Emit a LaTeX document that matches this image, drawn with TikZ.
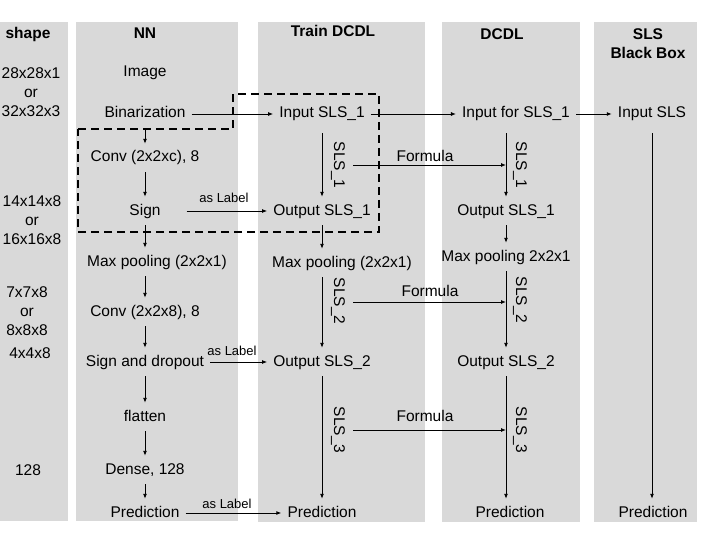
\documentclass[tikz,border=0pt]{standalone}
\usepackage{fontspec}
\setmainfont{Liberation Sans}
\usetikzlibrary{arrows.meta,calc}
\definecolor{colgray}{RGB}{217,217,217}
\begin{document}
\begin{tikzpicture}[x=1pt,y=-1pt,
  lbl/.style={inner xsep=6pt, inner ysep=7pt, text height=11pt, text depth=3pt, font=\fontsize{15.5}{19}\selectfont},
  hdr/.style={font=\fontsize{15.5}{19}\selectfont\bfseries, align=center, inner sep=0pt},
  shp/.style={font=\fontsize{15.5}{19}\selectfont, align=center, inner sep=0pt},
  arr/.style={-{Latex[length=5pt,width=4pt]}, line width=0.9pt},
  smalllbl/.style={font=\fontsize{13}{15}\selectfont, inner sep=0pt},
  formlbl/.style={font=\fontsize{15.5}{19}\selectfont, inner sep=0pt},
  rotlbl/.style={rotate=-90, font=\fontsize{15.5}{19}\selectfont, inner sep=0pt},
  colbox/.style={fill=colgray, draw=none},
  dashbox/.style={draw, line width=1.8pt, dash pattern=on 8pt off 5pt}]
\useasboundingbox (0,0) rectangle (720,540);
% columns
\fill[colbox] (0,22) rectangle (68,521);
\fill[colbox] (76,22) rectangle (238,521);
\fill[colbox] (258,22) rectangle (425,522);
\fill[colbox] (442,22) rectangle (580,522);
\fill[colbox] (594,22) rectangle (697,522);
% headers
\node[hdr] (hshape) at (28,34) {shape};
\node[hdr] (hnn) at (145,33) {NN};
\node[hdr] (htrain) at (333,31) {Train DCDL};
\node[hdr] (hdcdl) at (502,34) {DCDL};
\node[hdr] (hsls) at (648,43.5) {SLS\\Black Box};
% shapes
\node[shp] (s1) at (31,92) {28x28x1\\or\\32x32x3};
\node[shp] (s2) at (32,220) {14x14x8\\or\\16x16x8};
\node[shp] (s3) at (27,311) {7x7x8\\or\\8x8x8};
\node[shp] (s4) at (30,353) {4x4x8};
\node[shp] (s5) at (28,470) {128};
% NN column
\node[lbl] (image) at (145,73) {Image};
\node[lbl] (bin) at (145,114) {Binarization};
\node[lbl] (conv1) at (145,158) {Conv (2x2xc), 8};
\node[lbl] (sign) at (145,211) {Sign};
\node[lbl] (max1) at (157,262) {Max pooling (2x2x1)};
\node[lbl] (conv2) at (145,312) {Conv (2x2x8), 8};
\node[lbl] (signd) at (145,362) {Sign and dropout};
\node[lbl] (flat) at (145,417) {flatten};
\node[lbl] (dense) at (145,470) {Dense, 128};
\node[lbl] (pred) at (145,513) {Prediction};
% Train DCDL column
\node[lbl] (in1) at (322,114) {Input SLS\_1};
\node[lbl] (out1) at (322,211) {Output SLS\_1};
\node[lbl] (maxT) at (342,263) {Max pooling (2x2x1)};
\node[lbl] (out2) at (322,362) {Output SLS\_2};
\node[lbl] (predT) at (322,513) {Prediction};
% DCDL column
\node[lbl] (inD) at (516,114) {Input for SLS\_1};
\node[lbl] (outD1) at (506,211) {Output SLS\_1};
\node[lbl] (maxD) at (506,257) {Max pooling 2x2x1};
\node[lbl] (outD2) at (506,362) {Output SLS\_2};
\node[lbl] (predD) at (510,513) {Prediction};
% SLS black box column
\node[lbl] (inB) at (652,114) {Input SLS};
\node[lbl] (predB) at (653,513) {Prediction};
% dashed region
\draw[dashbox] (78,129) -- (233,129) -- (233,94) -- (379,94) -- (379,232) -- (78,232) -- cycle;
% NN arrows
\draw[arr] (bin) -- (conv1);
\draw[arr] (conv1) -- (sign);
\draw[arr] (sign.south) -- (sign.south |- max1.north);
\draw[arr] (max1.south -| conv2.north) -- (conv2.north);
\draw[arr] (conv2) -- (signd);
\draw[arr] (signd) -- (flat);
\draw[arr] (flat) -- (dense);
\draw[arr] (dense) -- (pred);
% horizontal top
\draw[arr] (bin) -- (in1);
\draw[arr] (in1) -- (inD);
\draw[arr] (inD) -- (inB);
% as Label
\draw[arr, shorten <=20pt] (sign) -- (out1);
\node[smalllbl] (al1) at (224,198) {as Label};
\draw[arr] (signd) -- (out2);
\node[smalllbl] (al2) at (232,351) {as Label};
\draw[arr] (pred) -- (predT);
\node[smalllbl] (al3) at (227,504) {as Label};
% Train verticals
\draw[arr, shorten <=5pt] (in1) -- (out1);
\node[rotlbl] (t1) at (338,165) {SLS\_1};
\draw[arr] (out1.south) -- (out1.south |- maxT.north);
\draw[arr] (maxT.south -| out2.north) -- (out2.north);
\node[rotlbl] (t2) at (338,301) {SLS\_2};
\draw[arr] (out2) -- (predT);
\node[rotlbl] (t3) at (338,430) {SLS\_3};
% DCDL verticals
\draw[arr, shorten <=5pt] (inD.south -| outD1.north) -- (outD1.north);
\node[rotlbl] (d1) at (520,165) {SLS\_1};
\draw[arr] (outD1) -- (maxD);
\draw[arr] (maxD) -- (outD2);
\node[rotlbl] (d2) at (520,300) {SLS\_2};
\draw[arr] (outD2.south) -- (outD2.south |- predD.north);
\node[rotlbl] (d3) at (520,430) {SLS\_3};
% Black box
\draw[arr, shorten <=5pt] (inB.south) -- (inB.south |- predB.north);
% Formula arrows
\coordinate (f1s) at (353,165);
\coordinate (f2s) at (353,302);
\coordinate (f3s) at (353,430);
\draw[arr] (f1s) -- (outD1.north |- f1s);
\node[formlbl] (fl1) at (425,156) {Formula};
\draw[arr] (f2s) -- (outD1.north |- f2s);
\node[formlbl] (fl2) at (430,291) {Formula};
\draw[arr] (f3s) -- (outD1.north |- f3s);
\node[formlbl] (fl3) at (425,416) {Formula};
\end{tikzpicture}
\end{document}
